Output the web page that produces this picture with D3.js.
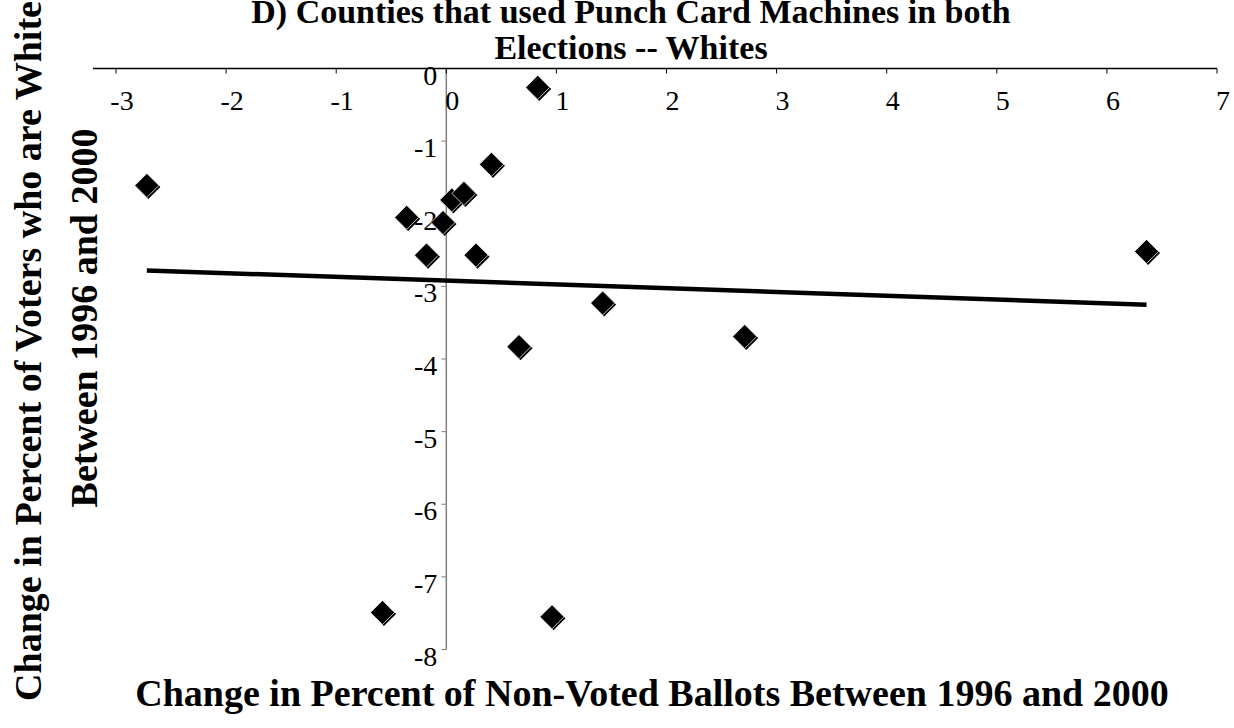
<!DOCTYPE html>
<html>
<head>
<meta charset="utf-8">
<script src="https://cdn.jsdelivr.net/npm/d3@7/dist/d3.min.js"></script>
<style>
  body { margin: 0; background: #fff; }
  svg text { font-family: "Liberation Serif", "Times New Roman", Times, serif; fill: #000; }
</style>
</head>
<body>
<svg id="chart" width="1234" height="728"></svg>
<script>
// change in non-voted ballots (x) and change in white share of voters (y), by county
const nonVotedChange = [-2.72, -0.36, -0.03, 0.05, 0.16, 0.41, -0.18, 0.27, 0.83, 0.96, 6.36, -0.58, 1.42, 0.66, 2.71];
const whiteChange    = [-1.61, -2.05, -2.12, -1.81, -1.72, -1.32, -2.57, -2.57, -0.26, -7.55, -2.52, -7.49, -3.23, -3.83, -3.69];

const xTickValues = [-3, -2, -1, 0, 1, 2, 3, 4, 5, 6, 7];
const yTickValues = [0, -1, -2, -3, -4, -5, -6, -7, -8];

const titleLines = ['D) Counties that used Punch Card Machines in both', 'Elections -- Whites'];
const xTitle = 'Change in Percent of Non-Voted Ballots Between 1996 and 2000';
const yTitleLines = ['Change in Percent of Voters who are White', 'Between 1996 and 2000'];

const svg = d3.select('#chart')
  .attr('font-family', '"Liberation Serif", "Times New Roman", serif');

const x = d3.scaleLinear().domain([-3, 7]).range([116, 1217]);
const y = d3.scaleLinear().domain([0, -8]).range([68.5, 649.5]);
const plotLeft = 93;

const points = nonVotedChange.map((v, i) => ({ x: v, y: whiteChange[i] }));

// least squares trend line over the data range
const mx = d3.mean(points, p => p.x);
const my = d3.mean(points, p => p.y);
const slope = d3.sum(points, p => (p.x - mx) * (p.y - my)) / d3.sum(points, p => (p.x - mx) ** 2);
const intercept = my - slope * mx;
const [xmin, xmax] = d3.extent(points, p => p.x);
const trend = [xmin, xmax].map(v => ({ x: v, y: intercept + slope * v }));

// vertical axis (gray) at x = 0
const yAxisG = svg.append('g').attr('transform', `translate(${x(0)},0)`);
yAxisG.append('line')
  .attr('y1', y(0)).attr('y2', y(-8))
  .attr('stroke', '#808080').attr('stroke-width', 1.5);
yAxisG.selectAll('line.tick')
  .data(yTickValues)
  .enter()
  .append('line')
  .attr('class', 'tick')
  .attr('x1', -5).attr('x2', 0)
  .attr('y1', d => y(d)).attr('y2', d => y(d))
  .attr('stroke', '#808080').attr('stroke-width', 1);
yAxisG.selectAll('text')
  .data(yTickValues)
  .enter()
  .append('text')
  .attr('x', -9)
  .attr('y', d => y(d) + 16)
  .attr('text-anchor', 'end')
  .style('font-size', '28px')
  .text(d => d);

// horizontal axis (black) along the top
const xAxisG = svg.append('g');
xAxisG.append('line')
  .attr('x1', plotLeft).attr('x2', x(7))
  .attr('y1', y(0)).attr('y2', y(0))
  .attr('stroke', '#000').attr('stroke-width', 1.5);
xAxisG.selectAll('line.tick')
  .data(xTickValues)
  .enter()
  .append('line')
  .attr('class', 'tick')
  .attr('x1', d => x(d)).attr('x2', d => x(d))
  .attr('y1', y(0)).attr('y2', y(0) + 5)
  .attr('stroke', '#000').attr('stroke-width', 1);
xAxisG.selectAll('text')
  .data(xTickValues)
  .enter()
  .append('text')
  .attr('x', d => x(d) + 6)
  .attr('y', y(0) + 41)
  .attr('text-anchor', 'middle')
  .style('font-size', '28px')
  .text(d => d);

// trend line
svg.append('line')
  .attr('x1', x(trend[0].x)).attr('y1', y(trend[0].y))
  .attr('x2', x(trend[1].x)).attr('y2', y(trend[1].y))
  .attr('stroke', '#000').attr('stroke-width', 4.5);

// diamond markers
const diamond = d3.symbol().type(d3.symbolSquare).size(290);
const marks = svg.append('g')
  .selectAll('g')
  .data(points)
  .enter()
  .append('g')
  .attr('transform', p => `translate(${x(p.x)},${y(p.y)})`);
marks.append('path')
  .attr('d', diamond)
  .attr('transform', 'translate(1.5,1.5) rotate(45)')
  .attr('fill', '#000');
marks.append('path')
  .attr('d', diamond)
  .attr('transform', 'rotate(45)')
  .attr('fill', '#000')
  .attr('stroke', '#fff')
  .attr('stroke-width', 0.7);

// titles
svg.append('g')
  .selectAll('text')
  .data(titleLines)
  .enter()
  .append('text')
  .attr('x', 631)
  .attr('y', (d, i) => 23 + i * 36)
  .attr('text-anchor', 'middle')
  .style('font-size', '34px')
  .style('font-weight', 'bold')
  .text(d => d);

svg.append('text')
  .attr('x', 652)
  .attr('y', 706)
  .attr('text-anchor', 'middle')
  .style('font-size', '38px')
  .style('font-weight', 'bold')
  .text(xTitle);

const yTitleCenters = [351, 318];
const yTitleBaselines = [41, 97];
svg.append('g')
  .selectAll('text')
  .data(yTitleLines)
  .enter()
  .append('text')
  .attr('transform', (d, i) => `translate(${yTitleBaselines[i]},${yTitleCenters[i]}) rotate(-90)`)
  .attr('text-anchor', 'middle')
  .style('font-size', '38px')
  .style('font-weight', 'bold')
  .text(d => d);
</script>
</body>
</html>
